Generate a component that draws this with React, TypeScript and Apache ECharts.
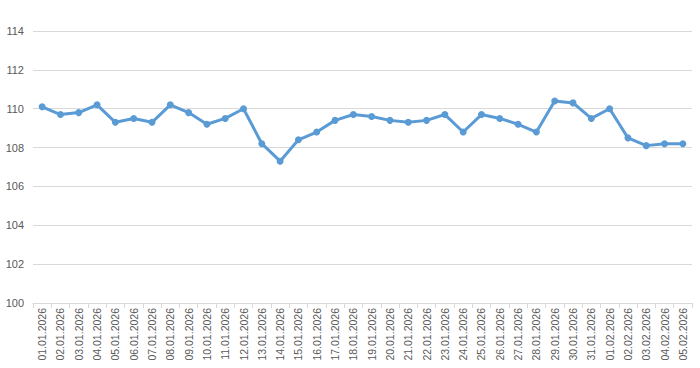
import React, { useEffect, useRef } from "react";
import * as echarts from "echarts";

const categories = [
  "01.01.2026", "02.01.2026", "03.01.2026", "04.01.2026", "05.01.2026", "06.01.2026",
  "07.01.2026", "08.01.2026", "09.01.2026", "10.01.2026", "11.01.2026", "12.01.2026",
  "13.01.2026", "14.01.2026", "15.01.2026", "16.01.2026", "17.01.2026", "18.01.2026",
  "19.01.2026", "20.01.2026", "21.01.2026", "22.01.2026", "23.01.2026", "24.01.2026",
  "25.01.2026", "26.01.2026", "27.01.2026", "28.01.2026", "29.01.2026", "30.01.2026",
  "31.01.2026", "01.02.2026", "02.02.2026", "03.02.2026", "04.02.2026", "05.02.2026",
];

const values = [
  110.1, 109.7, 109.8, 110.2, 109.3, 109.5,
  109.3, 110.2, 109.8, 109.2, 109.5, 110.0,
  108.2, 107.3, 108.4, 108.8, 109.4, 109.7,
  109.6, 109.4, 109.3, 109.4, 109.7, 108.8,
  109.7, 109.5, 109.2, 108.8, 110.4, 110.3,
  109.5, 110.0, 108.5, 108.1, 108.2, 108.2,
];

const yMin = 100;
const yMax = 114;
const yInterval = 2;

export default function App() {
  const ref = useRef<HTMLDivElement>(null);
  useEffect(() => {
    if (!ref.current) return;
    const chart = echarts.init(ref.current, undefined, { renderer: "svg" });
    chart.setOption({
      animation: false,
      grid: { left: 33, right: 8, top: 31, bottom: 65 },
      xAxis: {
        type: "category",
        data: categories,
        boundaryGap: true,
        axisLine: { show: true, lineStyle: { color: "#d9d9d9", width: 1 } },
        axisTick: { show: true, alignWithLabel: false, length: 5, lineStyle: { color: "#d9d9d9" } },
        axisLabel: {
          rotate: 90,
          interval: 0,
          color: "#595959",
          fontSize: 10.5,
          fontFamily: "Liberation Sans, Arial, sans-serif",
          margin: 5,
        },
        splitLine: { show: false },
      },
      yAxis: {
        type: "value",
        min: yMin,
        max: yMax,
        interval: yInterval,
        axisLine: { show: false },
        axisTick: { show: false },
        axisLabel: {
          color: "#595959",
          fontSize: 11,
          fontFamily: "Liberation Sans, Arial, sans-serif",
          margin: 9,
        },
        splitLine: { show: true, lineStyle: { color: "#d9d9d9", width: 1 } },
      },
      series: [
        {
          type: "line",
          data: values,
          symbol: "circle",
          symbolSize: 7,
          itemStyle: { color: "#5b9bd5" },
          lineStyle: { color: "#5b9bd5", width: 3 },
        },
      ],
    });
    return () => chart.dispose();
  }, []);
  return (
    <div
      ref={ref}
      style={{ position: "absolute", left: 0, top: 0, width: 700, height: 368 }}
    />
  );
}
